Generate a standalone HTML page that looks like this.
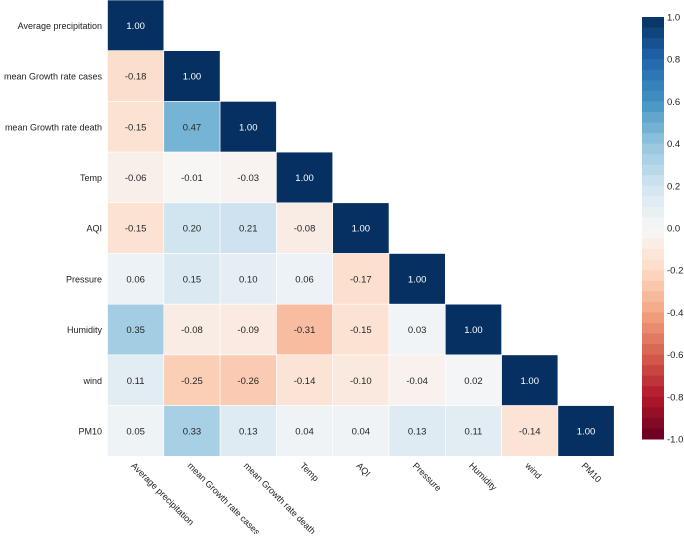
<!DOCTYPE html>
<html><head><meta charset="utf-8"><style>
body{margin:0;background:#fff;font-family:"Liberation Sans",sans-serif}
svg text{font-family:"Liberation Sans",sans-serif}
</style></head><body>
<svg id="c" width="684" height="534" xmlns="http://www.w3.org/2000/svg"></svg>
<script>
const labels=["Average precipitation","mean Growth rate cases","mean Growth rate death","Temp","AQI","Pressure","Humidity","wind","PM10"];
const row0=[1.00];
const row1=[-0.18,1.00];
const row2=[-0.15,0.47,1.00];
const row3=[-0.06,-0.01,-0.03,1.00];
const row4=[-0.15,0.20,0.21,-0.08,1.00];
const row5=[0.06,0.15,0.10,0.06,-0.17,1.00];
const row6=[0.35,-0.08,-0.09,-0.31,-0.15,0.03,1.00];
const row7=[0.11,-0.25,-0.26,-0.14,-0.10,-0.04,0.02,1.00];
const row8=[0.05,0.33,0.13,0.04,0.04,0.13,0.11,-0.14,1.00];
const rows=[row0,row1,row2,row3,row4,row5,row6,row7,row8];
const cbTicks=[1.0,0.8,0.6,0.4,0.2,0.0,-0.2,-0.4,-0.6,-0.8,-1.0];

const NS="http://www.w3.org/2000/svg";
const svg=document.getElementById('c');
function mk(t,a,p){const e=document.createElementNS(NS,t);for(const k in a)e.setAttribute(k,a[k]);(p||svg).appendChild(e);return e;}
const stops=["#67001f","#b2182b","#d6604d","#f4a582","#fddbc7","#f7f7f7","#d1e5f0","#92c5de","#4393c3","#2166ac","#053061"];
function hx(h){return [1,3,5].map(i=>parseInt(h.substr(i,2),16));}
function cmap(v){let t=(Math.max(-1,Math.min(1,v))+1)/2*10;let i=Math.min(9,Math.floor(t));let f=t-i;const a=hx(stops[i]),b=hx(stops[i+1]);return `rgb(${a.map((x,k)=>Math.round(x+(b[k]-x)*f)).join(',')})`;}
const X0=107.5,Y0=0,CW=56.3,CH=50.7,FS=9;
const xs=i=>X0+i*CW, ys=i=>Y0+i*CH;
rows.forEach((r,i)=>{
  const lt=mk('text',{x:102,y:ys(i)+CH/2+3.5,'text-anchor':'end','font-size':FS,fill:'#222'});
  lt.textContent=labels[i];
  
  
  r.forEach((v,j)=>{
    const rc=mk('rect',{x:xs(j),y:ys(i),width:CW,height:CH,fill:cmap(v),stroke:'#fff','stroke-width':0.6});
    
    
    const t=mk('text',{x:xs(j)+CW/2,y:ys(i)+CH/2+3.5,'text-anchor':'middle','font-size':FS+0.5,fill:Math.abs(v)>0.6?'#fff':'#262626'});
    t.textContent=v.toFixed(2);
    
    
  });
});
labels.forEach((l,j)=>{
  const cx=xs(j)+CW/2-5, cy=ys(9)+10;
  const t=mk('text',{x:cx,y:cy,'font-size':FS,fill:'#222',transform:`rotate(45 ${cx} ${cy})`});
  t.textContent=l;
  
  
});
const CBX=642,CBW=22,CBT=17,CBB=439,N=40;
const cs=v=>CBT+(1-v)/2*(CBB-CBT);
for(let k=0;k<N;k++){
  const v1=1-k*2/N, v2=1-(k+1)*2/N;
  const r=mk('rect',{x:CBX,y:cs(v1),width:CBW,height:cs(v2)-cs(v1)+0.5,fill:cmap((v1+v2)/2)});
  
  
}
cbTicks.forEach(v=>{
  const t=mk('text',{x:CBX+CBW+3,y:cs(v)+3.5,'font-size':FS+0.5,fill:'#222'});
  t.textContent=v.toFixed(1);
  
  
});
</script>
</body></html>
